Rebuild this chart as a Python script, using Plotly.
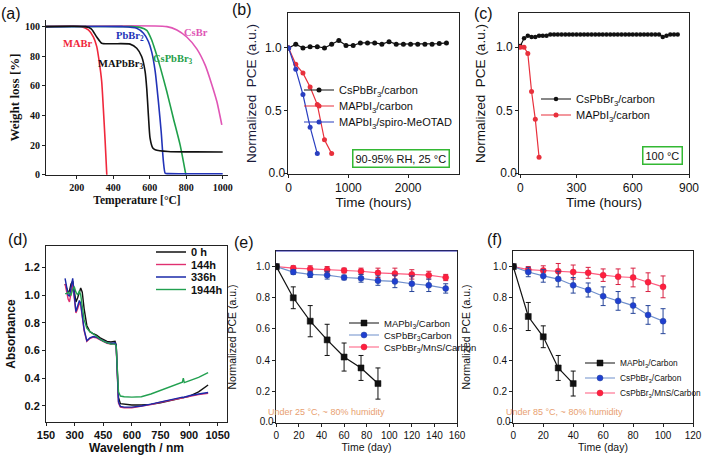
import plotly.graph_objects as go

W, H = 702, 457
SERIF = "Liberation Serif, Times New Roman, serif"
SANS = "Liberation Sans, Arial, sans-serif"
NARROW = "Liberation Sans Narrow, Arial Narrow, Liberation Sans, sans-serif"

# ---------------- data: (a) TGA ----------------
a_mabr_T = [30, 227, 264, 292, 310, 324, 337, 346, 356, 365]
a_mabr_w = [100, 100, 97.8, 93, 86.5, 76, 63, 45, 22.5, 0]
a_mapbbr_T = [30, 249, 280, 310, 337, 400, 493, 529, 556, 575, 584, 593, 602, 617, 630, 700, 850, 1000]
a_mapbbr_w = [100, 100, 98.5, 93, 88.8, 88.5, 88.2, 85.4, 79.8, 69.7, 58, 40, 24.7, 18, 16.9, 15.7, 15.4, 15.3]
a_pbbr2_T = [30, 450, 529, 566, 593, 611, 630, 648, 663, 675, 685, 700, 850, 1000]
a_pbbr2_w = [100, 100, 99, 95.5, 90, 83, 70, 49, 29, 9, 1, 0.7, 0.6, 0.6]
a_cspbbr3_T = [30, 500, 547, 584, 611, 630, 657, 694, 730, 767, 798]
a_cspbbr3_w = [100, 100, 99.5, 97.5, 91, 84, 73, 56, 38, 20, 0]
a_csbr_T = [30, 694, 749, 803, 858, 904, 940, 968, 995]
a_csbr_w = [100, 100, 97.8, 93, 85, 74, 61, 49.4, 33.7]

# ---------------- data: (b) 90-95% RH ----------------
b_t_cs = [0, 120, 240, 360, 480, 600, 720, 840, 960, 1080, 1200, 1320, 1440, 1560,
          1680, 1800, 1920, 2040, 2160, 2280, 2400, 2520, 2640]
b_v_cs = [1.0, 1.03, 1.0, 1.01, 1.01, 1.0, 1.03, 1.06, 1.02, 1.02, 1.04, 1.04, 1.04,
          1.03, 1.05, 1.03, 1.03, 1.03, 1.03, 1.03, 1.03, 1.035, 1.04]
b_t_ma = [0, 120, 240, 360, 480, 600, 720]
b_v_ma = [1.0, 0.87, 0.80, 0.69, 0.55, 0.27, 0.16]
b_t_sp = [0, 120, 240, 360, 480]
b_v_sp = [1.0, 0.83, 0.63, 0.37, 0.16]

# ---------------- data: (c) 100 C ----------------
c_t_cs = [0, 20, 40, 60, 80, 100, 120, 140, 160, 180, 200, 220, 240, 260, 280, 300,
          320, 340, 360, 380, 400, 420, 440, 460, 480, 500, 520, 540, 560, 580, 600,
          620, 640, 660, 680, 700, 720, 740, 760, 780, 800, 820, 840]
c_v_cs = [1.01, 1.07, 1.09, 1.08, 1.08, 1.09, 1.09, 1.09, 1.10, 1.10, 1.10, 1.10, 1.10,
          1.10, 1.10, 1.10, 1.10, 1.10, 1.10, 1.10, 1.10, 1.10, 1.10, 1.10, 1.10, 1.10,
          1.10, 1.10, 1.10, 1.10, 1.10, 1.10, 1.10, 1.10, 1.10, 1.10, 1.10, 1.10, 1.08,
          1.09, 1.10, 1.10, 1.10]
c_t_ma = [0, 20, 40, 60, 80, 100]
c_v_ma = [1.0, 1.0, 0.95, 0.65, 0.43, 0.13]

# ---------------- data: (d) absorbance ----------------
d_wl = [250, 258, 266, 273, 281, 290, 298, 307, 316, 325, 332, 340, 350, 364, 380, 398,
        415, 434, 452, 470, 490, 503, 512, 518, 524, 530, 540, 560, 600, 650, 700, 750,
        800, 850, 865, 870, 875, 900, 950, 1000]
d_0h = [1.08, 1.04, 1.02, 1.03, 1.08, 1.10, 1.02, 0.95, 0.98, 1.03, 1.05, 1.02, 0.90,
        0.78, 0.735, 0.72, 0.71, 0.69, 0.675, 0.665, 0.66, 0.66, 0.665, 0.64, 0.45, 0.26,
        0.215, 0.21, 0.205, 0.205, 0.21, 0.222, 0.236, 0.25, 0.254, 0.256, 0.258, 0.268,
        0.30, 0.35]
d_144h = [1.08, 1.02, 0.97, 0.95, 1.02, 1.08, 0.98, 0.87, 0.90, 0.94, 0.93, 0.85, 0.74,
          0.665, 0.685, 0.695, 0.69, 0.675, 0.66, 0.65, 0.645, 0.645, 0.65, 0.63, 0.40,
          0.22, 0.19, 0.185, 0.185, 0.195, 0.208, 0.225, 0.24, 0.255, 0.258, 0.26, 0.262,
          0.268, 0.28, 0.29]
d_336h = [1.12, 1.05, 1.00, 0.99, 1.06, 1.12, 1.00, 0.88, 0.92, 0.96, 0.94, 0.86, 0.75,
          0.67, 0.69, 0.70, 0.695, 0.68, 0.665, 0.655, 0.65, 0.65, 0.655, 0.635, 0.41,
          0.23, 0.195, 0.19, 0.19, 0.198, 0.212, 0.228, 0.243, 0.256, 0.262, 0.26, 0.262,
          0.272, 0.285, 0.296]
d_1944h = [1.01, 1.01, 1.02, 1.01, 1.00, 1.04, 1.06, 1.02, 1.00, 1.03, 1.00, 0.92, 0.82,
           0.76, 0.735, 0.72, 0.70, 0.68, 0.665, 0.655, 0.645, 0.645, 0.645, 0.63, 0.48,
           0.30, 0.27, 0.265, 0.262, 0.265, 0.285, 0.31, 0.335, 0.36, 0.37, 0.40, 0.367,
           0.38, 0.405, 0.44]

# ---------------- data: (e) 25 C ----------------
e_t_ma = [0, 15, 30, 45, 60, 75, 90]
e_v_ma = [1.0, 0.80, 0.65, 0.53, 0.42, 0.35, 0.25]
e_err_ma = [0, 0.07, 0.10, 0.10, 0.09, 0.08, 0.10]
e_t_cs = [0, 15, 30, 45, 60, 75, 90, 105, 120, 135, 150]
e_v_cs = [1.0, 0.965, 0.95, 0.945, 0.93, 0.925, 0.91, 0.905, 0.89, 0.88, 0.86]
e_err_cs = [0, 0.015, 0.02, 0.025, 0.015, 0.025, 0.03, 0.04, 0.05, 0.04, 0.03]
e_v_mns = [1.0, 0.99, 0.985, 0.98, 0.975, 0.97, 0.96, 0.955, 0.95, 0.945, 0.93]
e_err_mns = [0, 0.015, 0.02, 0.02, 0.015, 0.02, 0.03, 0.035, 0.03, 0.025, 0.02]

# ---------------- data: (f) 85 C ----------------
f_t_ma = [0, 10, 20, 30, 40]
f_v_ma = [1.0, 0.68, 0.55, 0.35, 0.25]
f_err_ma = [0, 0.09, 0.07, 0.08, 0.08]
f_t_cs = [0, 10, 20, 30, 40, 50, 60, 70, 80, 90, 100]
f_v_cs = [1.0, 0.965, 0.94, 0.92, 0.88, 0.85, 0.81, 0.78, 0.75, 0.69, 0.65]
f_err_cs = [0, 0.03, 0.04, 0.05, 0.05, 0.045, 0.06, 0.06, 0.05, 0.06, 0.08]
f_v_mns = [1.0, 0.98, 0.975, 0.97, 0.965, 0.96, 0.945, 0.935, 0.93, 0.90, 0.87]
f_err_mns = [0, 0.02, 0.03, 0.05, 0.045, 0.035, 0.04, 0.05, 0.06, 0.06, 0.07]

# tick labels / ranges
pce_ticks = [0, 0.2, 0.4, 0.6, 0.8, 1.0]
pce_ticktext = ["", "0.2", "0.4", "0.6", "0.8", "1.0"]
half_ticks = [0, 0.5, 1.0]
half_ticktext = ["", "0.5", "1.0"]
zero_label = "0.0\u00a0"
b_xrange, b_yrange = [-10, 2850], [-0.002, 1.278]
c_xrange, c_yrange = [-7, 900], [-0.002, 1.27]
e_xrange, e_yrange = [-0.3, 160], [-0.003, 1.1]
f_xrange, f_yrange = [-0.2, 120], [-0.003, 1.1]


def dx(l, r):
    return [l / W, r / W]


def dy(t, b):
    return [1 - b / H, 1 - t / H]


def ax(font, size, rng, dom, anchor, mirror=True, bold=False, **kw):
    d = dict(domain=dom, range=rng, anchor=anchor, showline=True, linecolor="#222",
             linewidth=1, mirror=mirror, ticks="outside", ticklen=3, tickwidth=1,
             tickcolor="#222", showgrid=False, zeroline=False, automargin=False,
             ticklabeloverflow="allow",
             tickfont=dict(family=font, size=size, color="#111",
                           weight="bold" if bold else "normal"))
    d.update(kw)
    return d


fig = go.Figure()
legends = {}
_leg_n = [0]


def new_legend(text_x, row_y, size, font=SANS, bold=False):
    _leg_n[0] += 1
    key = "legend" if _leg_n[0] == 1 else "legend%d" % _leg_n[0]
    legends[key] = dict(x=(text_x - 41) / W, y=1 - row_y / H, xanchor="left", yanchor="middle",
                        bgcolor="rgba(0,0,0,0)", borderwidth=0, itemwidth=30,
                        font=dict(family=font, size=size, color="#111",
                                  weight="bold" if bold else "normal"))
    return key


# ---- (a)
A_COL = dict(mabr="#f0283c", mapbbr="#111111", pbbr2="#2233b8", cspbbr3="#1fa04a", csbr="#e055b5")
for T, w, c in [(a_mabr_T, a_mabr_w, A_COL["mabr"]), (a_csbr_T, a_csbr_w, A_COL["csbr"]),
                (a_cspbbr3_T, a_cspbbr3_w, A_COL["cspbbr3"]), (a_pbbr2_T, a_pbbr2_w, A_COL["pbbr2"]),
                (a_mapbbr_T, a_mapbbr_w, A_COL["mapbbr"])]:
    fig.add_trace(go.Scatter(x=T, y=w, mode="lines", line=dict(color=c, width=1.6, shape="spline", smoothing=0.6),
                             xaxis="x", yaxis="y", showlegend=False, hoverinfo="skip"))


def pts(xs, ys, nm, c, xa, ya, leg, size=5):
    fig.add_trace(go.Scatter(x=xs, y=ys, mode="lines+markers", name=nm,
                             line=dict(color=c, width=1.2), marker=dict(size=size, color=c),
                             xaxis=xa, yaxis=ya, legend=leg))


# ---- (b)
pts(b_t_cs, b_v_cs, "CsPbBr<sub>3</sub>/carbon", "#111111", "x2", "y2", new_legend(340, 90, 11))
pts(b_t_ma, b_v_ma, "MAPbI<sub>3</sub>/carbon", "#e8303c", "x2", "y2", new_legend(340, 106, 11))
pts(b_t_sp, b_v_sp, "MAPbI<sub>3</sub>/spiro-MeOTAD", "#2a3fc0", "x2", "y2", new_legend(340, 122, 11))

# ---- (c)
pts(c_t_cs, c_v_cs, "CsPbBr<sub>3</sub>/carbon", "#111111", "x3", "y3", new_legend(577, 99, 11), size=4.5)
pts(c_t_ma, c_v_ma, "MAPbI<sub>3</sub>/carbon", "#e8303c", "x3", "y3", new_legend(577, 115, 11))

# ---- (d)
for ys, nm, c, ry in [(d_0h, "0 h", "#111111", 252), (d_144h, "144h", "#e03070", 264.5),
                      (d_336h, "336h", "#1a2aa8", 277), (d_1944h, "1944h", "#22a050", 289.5)]:
    fig.add_trace(go.Scatter(x=d_wl, y=ys, mode="lines", name=nm, line=dict(color=c, width=1.4),
                             xaxis="x4", yaxis="y4", legend=new_legend(192, ry, 11, bold=True)))


# ---- (e), (f)
def pce(xs, ys, err, nm, lc, mc, ec, sym, xa, ya, lg):
    fig.add_trace(go.Scatter(x=xs, y=ys, mode="lines+markers", name=nm,
                             line=dict(color=lc, width=1.2),
                             marker=dict(symbol=sym, size=6, color=mc, line=dict(width=0.5, color=ec)),
                             error_y=dict(type="data", array=err, color=ec, thickness=1, width=2.5),
                             xaxis=xa, yaxis=ya, legend=lg))


pce(e_t_cs, e_v_mns, e_err_mns, "CsPbBr<sub>3</sub>/MnS/Carbon", "#ff5a7e", "#ff1f3d", "#d81f40", "circle", "x5", "y5",
    new_legend(385, 347, 9.5, NARROW))
pce(e_t_cs, e_v_cs, e_err_cs, "CsPbBr<sub>3</sub>Carbon", "#6f8fcc", "#1f3fd0", "#27459a", "circle", "x5", "y5",
    new_legend(385, 335, 9.5, NARROW))
pce(e_t_ma, e_v_ma, e_err_ma, "MAPbI<sub>3</sub>/Carbon", "#111111", "#111111", "#111111", "square", "x5", "y5",
    new_legend(385, 323, 9.5, NARROW))

pce(f_t_cs, f_v_mns, f_err_mns, "CsPbBr<sub>3</sub>/MnS/Carbon", "#ff5a7e", "#ff1f3d", "#d81f40", "circle", "x6", "y6",
    new_legend(621, 393, 8.3, NARROW))
pce(f_t_cs, f_v_cs, f_err_cs, "CsPbBr<sub>3</sub>/Carbon", "#6f8fcc", "#1f3fd0", "#27459a", "circle", "x6", "y6",
    new_legend(621, 378, 8.3, NARROW))
pce(f_t_ma, f_v_ma, f_err_ma, "MAPbI<sub>3</sub>/Carbon", "#111111", "#111111", "#111111", "square", "x6", "y6",
    new_legend(621, 363, 8.3, NARROW))

# ---- "0.0" corner tick labels as text marks at the data origin (inside the ranges)
for xa, ya, fnt, sz in [("x2", "y2", SANS, 12), ("x3", "y3", SANS, 12),
                        ("x5", "y5", NARROW, 10), ("x6", "y6", NARROW, 10)]:
    fig.add_trace(go.Scatter(x=[0], y=[0], mode="text", text=[zero_label], textposition="middle left",
                             textfont=dict(family=fnt, size=sz, color="#111"), cliponaxis=False,
                             xaxis=xa, yaxis=ya, showlegend=False, hoverinfo="skip"))

layout = dict(
    width=W, height=H, margin=dict(l=0, r=0, t=0, b=0, autoexpand=False),
    paper_bgcolor="white", plot_bgcolor="white", showlegend=True,
    xaxis=ax(SERIF, 10, [32, 1029], dx(46, 228), "y", mirror=False, bold=True, tickvals=[200, 400, 600, 800, 1000],
             title=dict(text="<b>Temperature [°C]</b>", font=dict(family=SERIF, size=11.5, color="#111"), standoff=3)),
    yaxis=ax(SERIF, 10, [-0.2, 104.5], dy(20, 175), "x", mirror=False, bold=True, tickvals=[0, 20, 40, 60, 80, 100],
             title=dict(text="<b>Weight loss [%]</b>", font=dict(family=SERIF, size=13, color="#111"), standoff=2)),
    xaxis2=ax(SANS, 12, b_xrange, dx(288, 459), "y2", tickvals=[0, 1000, 2000],
              title=dict(text="Time (hours)", font=dict(family=SANS, size=13.5, color="#111"), standoff=1)),
    yaxis2=ax(SANS, 12, b_yrange, dy(13, 174), "x2", tickvals=half_ticks, ticktext=half_ticktext,
              title=dict(text="Normalized  PCE (a.u.)", font=dict(family=SANS, size=13.5, color="#1a1a3a"), standoff=5)),
    xaxis3=ax(SANS, 12, c_xrange, dx(519, 689), "y3", tickvals=[0, 300, 600, 900],
              title=dict(text="Time (hours)", font=dict(family=SANS, size=13.5, color="#111"), standoff=1)),
    yaxis3=ax(SANS, 12, c_yrange, dy(13, 174), "x3", tickvals=half_ticks, ticktext=half_ticktext,
              title=dict(text="Normalized  PCE (a.u.)", font=dict(family=SANS, size=13.5, color="#111"), standoff=7)),
    xaxis4=ax(SANS, 11, [150, 1099], dx(46, 227), "y4", bold=True, tickvals=[150, 300, 450, 600, 750, 900, 1050],
              title=dict(text="<b>Wavelength / nm</b>", font=dict(family=SANS, size=12, color="#111"), standoff=3)),
    yaxis4=ax(SANS, 11, [0.0825, 1.354], dy(246, 422), "x4", bold=True, tickvals=[0.2, 0.4, 0.6, 0.8, 1.0, 1.2],
              tickformat=".1f",
              title=dict(text="<b>Absorbance</b>", font=dict(family=SANS, size=12, color="#111"), standoff=6)),
    xaxis5=ax(NARROW, 10, e_xrange, dx(276, 457), "y5", tickvals=[0, 20, 40, 60, 80, 100, 120, 140, 160],
              title=dict(text="Time (day)", font=dict(family=NARROW, size=10.5, color="#111"), standoff=3)),
    yaxis5=ax(NARROW, 10, e_yrange, dy(251, 423), "x5", tickvals=pce_ticks, ticktext=pce_ticktext,
              title=dict(text="Normalized PCE (a.u.)", font=dict(family=NARROW, size=10.5, color="#111"), standoff=17)),
    xaxis6=ax(NARROW, 10, f_xrange, dx(513, 693), "y6", tickvals=[0, 20, 40, 60, 80, 100, 120],
              title=dict(text="Time (day)", font=dict(family=NARROW, size=10.5, color="#111"), standoff=3)),
    yaxis6=ax(NARROW, 10, f_yrange, dy(251, 423), "x6", tickvals=pce_ticks, ticktext=pce_ticktext,
              title=dict(text="Normalized PCE (a.u.)", font=dict(family=NARROW, size=10.5, color="#111"), standoff=20)),
)
layout.update(legends)

ann = []


def text(xp, yp, t, size, color="#111", font=SANS, **kw):
    d = dict(x=xp / W, y=1 - yp / H, xref="paper", yref="paper", text=t, showarrow=False,
             xanchor="center", yanchor="middle",
             font=dict(family=font, size=size, color=color))
    d.update(kw)
    ann.append(d)


# panel letters
text(11, 13, "(a)", 16)
text(242, 9, "(b)", 16)
text(483, 13, "(c)", 16)
text(18, 240, "(d)", 16)
text(244, 242, "(e)", 16)
text(494, 240, "(f)", 16)

# (a) curve labels
text(77, 43, "<b>MABr</b>", 10.5, A_COL["mabr"], SERIF)
text(130, 36, "<b>PbBr<sub>2</sub></b>", 10.5, A_COL["pbbr2"], SERIF)
text(196, 32, "<b>CsBr</b>", 10.5, A_COL["csbr"], SERIF)
text(120, 64, "<b>MAPbBr<sub>3</sub></b>", 10.5, A_COL["mapbbr"], SERIF)
text(173, 59, "<b>CsPbBr<sub>3</sub></b>", 10.5, A_COL["cspbbr3"], SERIF)

# condition boxes
text(401, 158, "90-95% RH, 25 °C", 11, bordercolor="#33b833", borderwidth=1.5, borderpad=2, bgcolor="white")
text(662, 156, "100 °C", 11, bordercolor="#33b833", borderwidth=1.5, borderpad=2, bgcolor="white")

# humidity notes
text(326, 412, "Under 25 °C, ~ 80% humidity", 9, "#e8a070", NARROW)
text(564, 412, "Under 85 °C, ~ 80% humidity", 9, "#e8a070", NARROW)

layout["annotations"] = ann
layout["shapes"] = [dict(type="line", xref="paper", yref="paper", x0=276 / W, x1=457 / W,
                         y0=1 - 251 / H, y1=1 - 251 / H, line=dict(color="#2a2ab0", width=1.2))]
fig.update_layout(**layout)
fig.write_html("out.html", config={"displayModeBar": False, "staticPlot": True},
               post_script="document.body.style.margin='0px';document.body.style.padding='0px';"
                           "document.body.style.overflow='hidden';")
